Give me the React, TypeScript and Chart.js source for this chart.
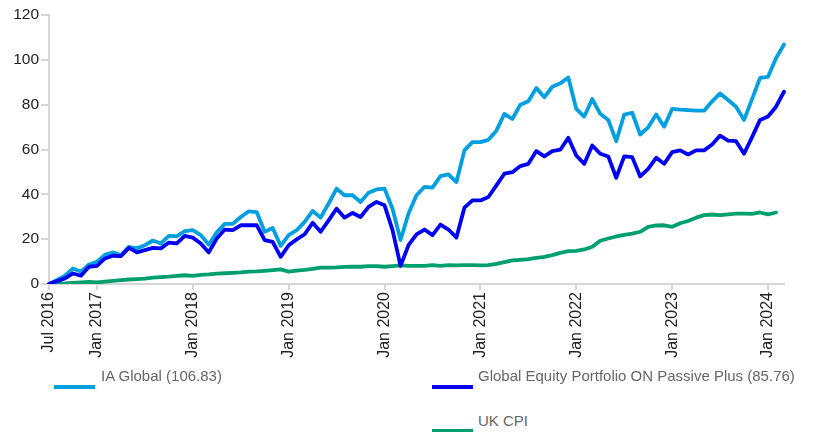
import React, { useEffect, useRef } from 'react';
import { Chart, registerables } from 'chart.js';

Chart.register(...registerables);

const MONTH_NAMES = ['Jan', 'Feb', 'Mar', 'Apr', 'May', 'Jun', 'Jul', 'Aug', 'Sep', 'Oct', 'Nov', 'Dec'];
const START_YEAR = 2016;
const START_MONTH = 6; // July
const N_MONTHS = 93; // Jul 2016 .. Mar 2024

const categories: string[] = Array.from({ length: N_MONTHS }, (_, i) => {
  const k = START_MONTH + i;
  return `${MONTH_NAMES[k % 12]} ${START_YEAR + Math.floor(k / 12)}`;
});

const tickLabels = ['Jul 2016', 'Jan 2017', 'Jan 2018', 'Jan 2019', 'Jan 2020', 'Jan 2021', 'Jan 2022', 'Jan 2023', 'Jan 2024'];
const yTicks = [0, 20, 40, 60, 80, 100, 120];

const iaGlobal = [
  0, 1.8, 3.7, 6.9, 5.5, 8.7, 9.9, 13.0, 14.1, 12.9, 16.6, 15.9, 17.3, 19.4, 18.1, 21.5, 21.3, 23.6, 24.0, 21.8,
  17.5, 23.1, 26.8, 26.8, 29.9, 32.4, 32.1, 23.3, 25.0, 17.0, 21.8,
  24.0, 27.7, 32.6, 29.6, 35.9, 42.5, 39.6, 39.6, 36.6, 40.7, 42.2, 42.5, 33.6, 19.6, 31.4, 39.6, 43.3, 43.0, 48.1,
  48.9, 45.5, 59.6, 63.3, 63.3, 64.3, 68.4, 75.9, 73.6, 80.0, 81.5, 87.4, 83.3,
  88.0, 89.5, 92.1, 78.1, 74.7, 82.5, 75.9, 73.2, 63.7, 75.6, 76.4, 66.7, 69.9, 75.6, 70.2, 78.1, 77.8, 77.6,
  77.3, 77.3, 81.5, 85.0, 82.1, 79.1, 73.2, 82.5, 91.9, 92.4, 100.7, 106.83,
];

const globalEquity = [
  0, 1.3, 2.5, 4.7, 3.7, 7.7, 8.1, 11.4, 12.6, 12.4, 16.1, 14.1, 15.1, 16.1, 15.9, 18.5, 18.1, 21.5, 20.7, 18.1,
  14.1, 20.3, 24.3, 24.0, 26.2, 26.2, 26.2, 19.6, 18.8, 12.1, 17.3,
  19.9, 22.2, 27.3, 23.3, 28.4, 33.6, 29.6, 31.7, 29.9, 34.4, 36.6, 35.1, 24.0, 8.1, 17.3, 22.1, 24.3, 21.8, 26.5,
  24.3, 20.7, 34.1, 37.3, 37.3, 38.8, 44.0, 49.2, 49.9, 52.6, 53.6, 59.3, 56.9,
  59.3, 59.9, 65.2, 57.3, 53.6, 61.8, 58.1, 56.9, 47.4, 56.9, 56.6, 48.0, 51.4, 56.3, 53.6, 58.8, 59.6, 57.8,
  59.6, 59.6, 62.2, 66.2, 64.0, 63.7, 58.1, 65.5, 73.2, 74.7, 79.1, 85.76,
];

const ukCpi = [
  0, 0.2, 0.3, 0.5, 0.7, 0.9, 0.7, 1.1, 1.4, 1.7, 2.0, 2.2, 2.4, 2.8, 3.1, 3.3, 3.6, 3.9, 3.6, 4.1,
  4.3, 4.6, 4.8, 5.0, 5.2, 5.5, 5.6, 5.9, 6.2, 6.5, 5.5,
  6.0, 6.3, 6.8, 7.3, 7.3, 7.4, 7.6, 7.7, 7.7, 8.0, 8.0, 7.7, 8.0, 8.3, 8.1, 8.1, 8.1, 8.4, 8.1,
  8.4, 8.3, 8.4, 8.4, 8.3, 8.4, 9.0, 9.8, 10.5, 10.8, 11.1, 11.7, 12.1,
  12.9, 13.9, 14.7, 14.8, 15.4, 16.6, 19.3, 20.3, 21.2, 21.9, 22.5, 23.3, 25.5, 26.1, 26.2, 25.5, 27.1, 28.1,
  29.6, 30.7, 31.0, 30.7, 31.1, 31.4, 31.4, 31.3, 31.9, 31.1, 31.9,
];

const seriesNames = ['IA Global (106.83)', 'Global Equity Portfolio ON Passive Plus (85.76)', 'UK CPI'];
const COLORS = ['#009fe0', '#0000f2', '#00a06e'];

const FONT = "'Liberation Sans', Arial, Helvetica, sans-serif";
const AXIS_GREY = '#d6d6d6';

export default function App() {
  const ref = useRef<HTMLCanvasElement | null>(null);

  useEffect(() => {
    if (!ref.current) return;
    const chart = new Chart(ref.current, {
      type: 'line',
      data: {
        labels: categories,
        datasets: [
          { label: seriesNames[0], data: iaGlobal, borderColor: COLORS[0], order: 1 },
          { label: seriesNames[1], data: globalEquity, borderColor: COLORS[1], order: 0 },
          { label: seriesNames[2], data: ukCpi, borderColor: COLORS[2], order: 2 },
        ].map((d) => ({
          ...d,
          borderWidth: 3.8,
          pointRadius: 0,
          tension: 0,
          fill: false,
          borderJoinStyle: 'round' as const,
          borderCapStyle: 'round' as const,
        })),
      },
      options: {
        animation: false,
        responsive: false,
        maintainAspectRatio: false,
        layout: { padding: { left: 0, right: 32, top: 15, bottom: 0 } },
        plugins: { legend: { display: false }, tooltip: { enabled: false } },
        scales: {
          x: {
            type: 'category',
            offset: false,
            afterBuildTicks: (axis: any) => {
              axis.ticks = axis.ticks.filter((t: any) => tickLabels.includes(categories[t.value]));
            },
            afterFit: (axis: any) => {
              axis.height = 86;
            },
            ticks: {
              autoSkip: false,
              maxRotation: 90,
              minRotation: 90,
              padding: 2,
              color: '#222',
              font: { family: FONT, size: 16 },
            },
            grid: {
              drawOnChartArea: false,
              drawTicks: true,
              tickLength: 6,
              color: AXIS_GREY,
              lineWidth: 2,
            },
            border: { display: true, color: AXIS_GREY, width: 2 },
          },
          y: {
            type: 'linear',
            min: 0,
            max: 120,
            afterBuildTicks: (axis: any) => {
              axis.ticks = yTicks.map((v) => ({ value: v }));
            },
            afterFit: (axis: any) => {
              axis.width = 49;
            },
            ticks: {
              padding: 2,
              color: '#222',
              font: { family: FONT, size: 15.5 },
            },
            grid: {
              drawOnChartArea: false,
              drawTicks: true,
              tickLength: 8,
              color: AXIS_GREY,
              lineWidth: 2,
            },
            border: { display: true, color: AXIS_GREY, width: 2 },
          },
        },
      },
    });
    return () => chart.destroy();
  }, []);

  const legendText: React.CSSProperties = {
    position: 'absolute',
    fontFamily: FONT,
    fontSize: 15,
    lineHeight: '18px',
    color: '#666',
    whiteSpace: 'nowrap',
  };
  const swatch = (color: string): React.CSSProperties => ({
    position: 'absolute',
    width: 41,
    height: 4,
    background: color,
  });

  return (
    <div style={{ position: 'absolute', left: 0, top: 0, width: 816, height: 432, background: '#fff' }}>
      <canvas ref={ref} width={816} height={370} style={{ position: 'absolute', left: 0, top: 0, width: 816, height: 370 }} />
      <div style={{ ...swatch(COLORS[0]), left: 54, top: 385 }} />
      <div style={{ ...legendText, left: 101, top: 367 }}>{seriesNames[0]}</div>
      <div style={{ ...swatch(COLORS[1]), left: 432, top: 385 }} />
      <div style={{ ...legendText, left: 478, top: 367 }}>{seriesNames[1]}</div>
      <div style={{ ...swatch(COLORS[2]), left: 432, top: 429 }} />
      <div style={{ ...legendText, left: 478, top: 412 }}>{seriesNames[2]}</div>
    </div>
  );
}
